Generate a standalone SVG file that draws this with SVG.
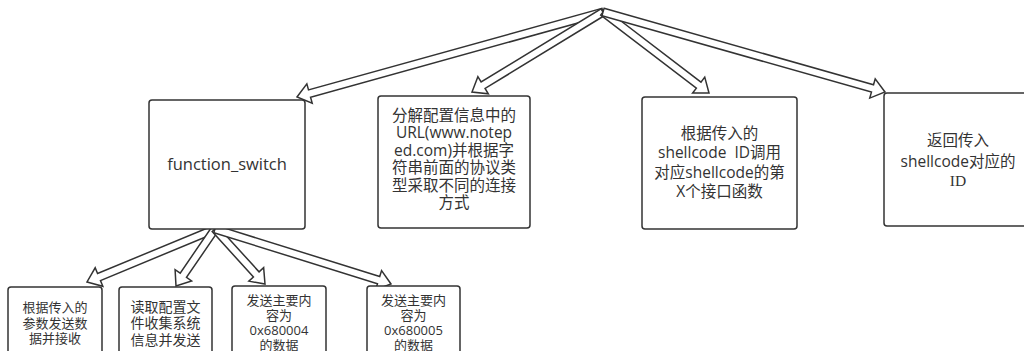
<svg xmlns="http://www.w3.org/2000/svg" width="1024" height="351" viewBox="0 0 1024 351">
<style>
.box{fill:#fff;stroke:#333;stroke-width:1.5}
.arr{fill:#fff;stroke:#333;stroke-width:1.5;stroke-linejoin:miter}
text{font-family:"Open Sans","Noto Sans CJK SC",sans-serif;fill:#333;text-anchor:middle}
.t16{font-size:15.5px}
.t13{font-size:13px}
</style>
<rect width="1024" height="351" fill="#fff"/>
<g id="connectors">
<path class="arr" transform="translate(297,97) rotate(164.48)" d="M-317.6,-3.8 L-13,-3.8 L-13,-10 L0,0 L-13,10 L-13,3.8 L-317.6,3.8 Z"/>
<path class="arr" transform="translate(472,92) rotate(148.59)" d="M-153.5,-3.8 L-13,-3.8 L-13,-10 L0,0 L-13,10 L-13,3.8 L-153.5,3.8 Z"/>
<path class="arr" transform="translate(709,93) rotate(37.38)" d="M-133.4,-3.8 L-13,-3.8 L-13,-10 L0,0 L-13,10 L-13,3.8 L-133.4,3.8 Z"/>
<path class="arr" transform="translate(885,92) rotate(15.84)" d="M-293.1,-3.8 L-13,-3.8 L-13,-10 L0,0 L-13,10 L-13,3.8 L-293.1,3.8 Z"/>
<path class="arr" transform="translate(87,282) rotate(157.5)" d="M-138.5,-3.8 L-13,-3.8 L-13,-10 L0,0 L-13,10 L-13,3.8 L-138.5,3.8 Z"/>
<path class="arr" transform="translate(176,286) rotate(124.4)" d="M-69.1,-3.8 L-13,-3.8 L-13,-10 L0,0 L-13,10 L-13,3.8 L-69.1,3.8 Z"/>
<path class="arr" transform="translate(265,284) rotate(47.7)" d="M-74.3,-3.8 L-13,-3.8 L-13,-10 L0,0 L-13,10 L-13,3.8 L-74.3,3.8 Z"/>
<path class="arr" transform="translate(391,284) rotate(17.35)" d="M-184.4,-3.8 L-13,-3.8 L-13,-10 L0,0 L-13,10 L-13,3.8 L-184.4,3.8 Z"/>
</g>
<g id="node-function-switch">
<rect class="box" x="149" y="100" width="156" height="129" rx="3"/>
<text x="227" y="170" style="font-size:16.5px">function_switch</text>
</g>
<g id="node-url">
<rect class="box" x="378" y="96" width="152" height="132" rx="3"/>
<text class="t16" x="454"><tspan x="454" y="120.5">分解配置信息中的</tspan><tspan x="454" y="138">URL(www.notep</tspan><tspan x="454" y="155.5">ed.com)并根据字</tspan><tspan x="454" y="173">符串前面的协议类</tspan><tspan x="454" y="190.5">型采取不同的连接</tspan><tspan x="454" y="208">方式</tspan></text>
</g>
<g id="node-shellcode-call">
<rect class="box" x="642" y="97" width="155" height="132" rx="3"/>
<text class="t16" x="719.5" style="white-space:pre"><tspan x="719.5" y="138.5">根据传入的</tspan><tspan x="719.5" y="158">shellcode  ID调用</tspan><tspan x="719.5" y="177.5">对应shellcode的第</tspan><tspan x="719.5" y="197">X个接口函数</tspan></text>
</g>
<g id="node-return-id">
<rect class="box" x="884" y="93" width="148" height="133" rx="3"/>
<text class="t16" x="958"><tspan x="958" y="145.5">返回传入</tspan><tspan x="958" y="167">shellcode对应的</tspan><tspan x="958" y="185.5" style="font-family:'Liberation Serif',serif">ID</tspan></text>
</g>
<g id="node-send-recv">
<rect class="box" x="8" y="287" width="94" height="80" rx="3"/>
<text class="t13" x="55"><tspan x="55" y="311.5">根据传入的</tspan><tspan x="55" y="327.5">参数发送数</tspan><tspan x="55" y="343">据并接收</tspan></text>
</g>
<g id="node-read-config">
<rect class="box" x="119" y="287" width="93" height="80" rx="3"/>
<text class="t13" x="165.5" style="font-size:14px"><tspan x="165.5" y="312">读取配置文</tspan><tspan x="165.5" y="328">件收集系统</tspan><tspan x="165.5" y="345">信息并发送</tspan></text>
</g>
<g id="node-send-680004">
<rect class="box" x="232" y="286" width="94" height="80" rx="3"/>
<text class="t13" x="279"><tspan x="279" y="304.5">发送主要内</tspan><tspan x="279" y="319.5">容为</tspan><tspan x="279" y="334.5">0x680004</tspan><tspan x="279" y="349.5">的数据</tspan></text>
</g>
<g id="node-send-680005">
<rect class="box" x="367" y="286" width="93" height="80" rx="3"/>
<text class="t13" x="413.5"><tspan x="413.5" y="304.5">发送主要内</tspan><tspan x="413.5" y="319.5">容为</tspan><tspan x="413.5" y="334.5">0x680005</tspan><tspan x="413.5" y="349.5">的数据</tspan></text>
</g>
</svg>
